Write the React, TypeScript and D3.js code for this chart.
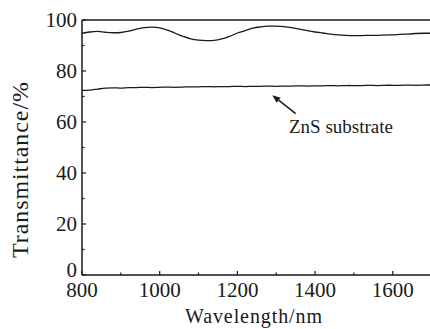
import React from "react";
import * as d3 from "d3";

const wavelengths = [800, 820, 840, 860, 880, 900, 920, 940, 960, 980, 1000, 1020, 1040, 1060, 1080, 1100, 1120, 1140, 1160, 1180, 1200, 1220, 1240, 1260, 1280, 1300, 1320, 1340, 1360, 1380, 1400, 1420, 1440, 1460, 1480, 1500, 1520, 1540, 1560, 1580, 1600, 1620, 1640, 1660, 1680, 1700];
const coated = [94.8, 95.3, 95.5, 95.2, 95.0, 95.1, 95.6, 96.4, 97.0, 97.2, 96.9, 96.0, 94.8, 93.6, 92.6, 92.1, 91.9, 92.0, 92.6, 93.6, 94.9, 95.8, 96.8, 97.3, 97.6, 97.6, 97.4, 97.0, 96.4, 95.8, 95.3, 94.9, 94.5, 94.2, 94.0, 93.9, 93.9, 94.0, 94.0, 94.1, 94.2, 94.4, 94.5, 94.7, 94.8, 94.8];
const substrate = [72.4, 72.5, 72.9, 73.3, 73.4, 73.3, 73.5, 73.5, 73.6, 73.5, 73.6, 73.7, 73.6, 73.7, 73.8, 73.8, 73.9, 73.8, 73.9, 73.9, 74.0, 73.9, 74.0, 74.0, 74.1, 74.0, 74.1, 74.1, 74.2, 74.1, 74.2, 74.2, 74.3, 74.2, 74.3, 74.3, 74.3, 74.4, 74.3, 74.4, 74.4, 74.4, 74.5, 74.4, 74.5, 74.5];
const xTicks = [800, 1000, 1200, 1400, 1600];
const xMinor = [900, 1100, 1300, 1500, 1700];
const yTicks = [0, 20, 40, 60, 80, 100];
const yMinor = [10, 30, 50, 70, 90];

const W = 430, H = 329;
const M = { left: 82, top: 20, right: 431.6, bottom: 275 };
const FONT = "'Liberation Serif'";
const ink = "#1a1a1a";

export default function App() {
  const x = d3.scaleLinear().domain([800, 1700]).range([M.left, M.right]);
  const y = d3.scaleLinear().domain([0, 100]).range([M.bottom, M.top]);
  const line = d3.line<number>().x((_, i) => x(wavelengths[i])).y((d) => y(d)).curve(d3.curveCatmullRom);
  const tf = (size: number) => ({ fontFamily: FONT, fontSize: `${size}px` });

  const tip = [x(1290), y(70.5)];
  const tail = [x(1350), y(63.3)];
  const ang = Math.atan2(tail[1] - tip[1], tail[0] - tip[0]);
  const hl = 8, hw = 3.2;
  const bx = tip[0] + hl * Math.cos(ang), by = tip[1] + hl * Math.sin(ang);

  return (
    <svg width={W} height={H} style={{ position: "absolute", left: 0, top: 0, background: "#fff" }}>
      {[coated, substrate].map((s, i) => (
        <path key={i} d={line(s) as string} fill="none" stroke={ink} strokeWidth={1.3} />
      ))}
      <line x1={M.left} x2={M.left} y1={M.top} y2={M.bottom} stroke={ink} strokeWidth={1.5} />
      <line x1={M.left} x2={W + 5} y1={M.bottom} y2={M.bottom} stroke={ink} strokeWidth={1.5} />
      <line x1={M.left} x2={W + 5} y1={M.top} y2={M.top} stroke={ink} strokeWidth={1.5} />
      {xTicks.map((t) => (
        <g key={t}>
          <line x1={x(t)} x2={x(t)} y1={M.bottom} y2={M.bottom - 4} stroke={ink} strokeWidth={1.2} />
          <text x={x(t)} y={297} textAnchor="middle" fill={ink} style={tf(21)}>{String(t)}</text>
        </g>
      ))}
      {xMinor.map((t) => (
        <line key={t} x1={x(t)} x2={x(t)} y1={M.bottom} y2={M.bottom - 2.5} stroke={ink} strokeWidth={1.2} />
      ))}
      {yTicks.map((t) => (
        <g key={t}>
          <line x1={M.left} x2={M.left + 4} y1={y(t)} y2={y(t)} stroke={ink} strokeWidth={1.2} />
          <text x={M.left - 5} y={t === 0 ? y(t) + 1.5 : y(t) + 7} textAnchor="end" fill={ink} style={tf(21)}>{String(t)}</text>
        </g>
      ))}
      {yMinor.map((t) => (
        <line key={t} x1={M.left} x2={M.left + 2.5} y1={y(t)} y2={y(t)} stroke={ink} strokeWidth={1.2} />
      ))}
      <text x={253.5} y={323} textAnchor="middle" fill={ink} style={tf(20)} textLength={137} lengthAdjust="spacing">Wavelength/nm</text>
      <text transform="translate(28,170) rotate(-90)" textAnchor="middle" fill={ink} style={tf(24)} textLength={176} lengthAdjust="spacing">Transmittance/%</text>
      <line x1={bx} y1={by} x2={tail[0]} y2={tail[1]} stroke={ink} strokeWidth={1.5} />
      <path d={`M${tip[0]},${tip[1]} L${bx - hw * Math.sin(ang)},${by + hw * Math.cos(ang)} L${bx + hw * Math.sin(ang)},${by - hw * Math.cos(ang)} Z`} fill={ink} />
      <text x={289} y={133} fill={ink} style={tf(19)} textLength={104} lengthAdjust="spacing">ZnS substrate</text>
    </svg>
  );
}
